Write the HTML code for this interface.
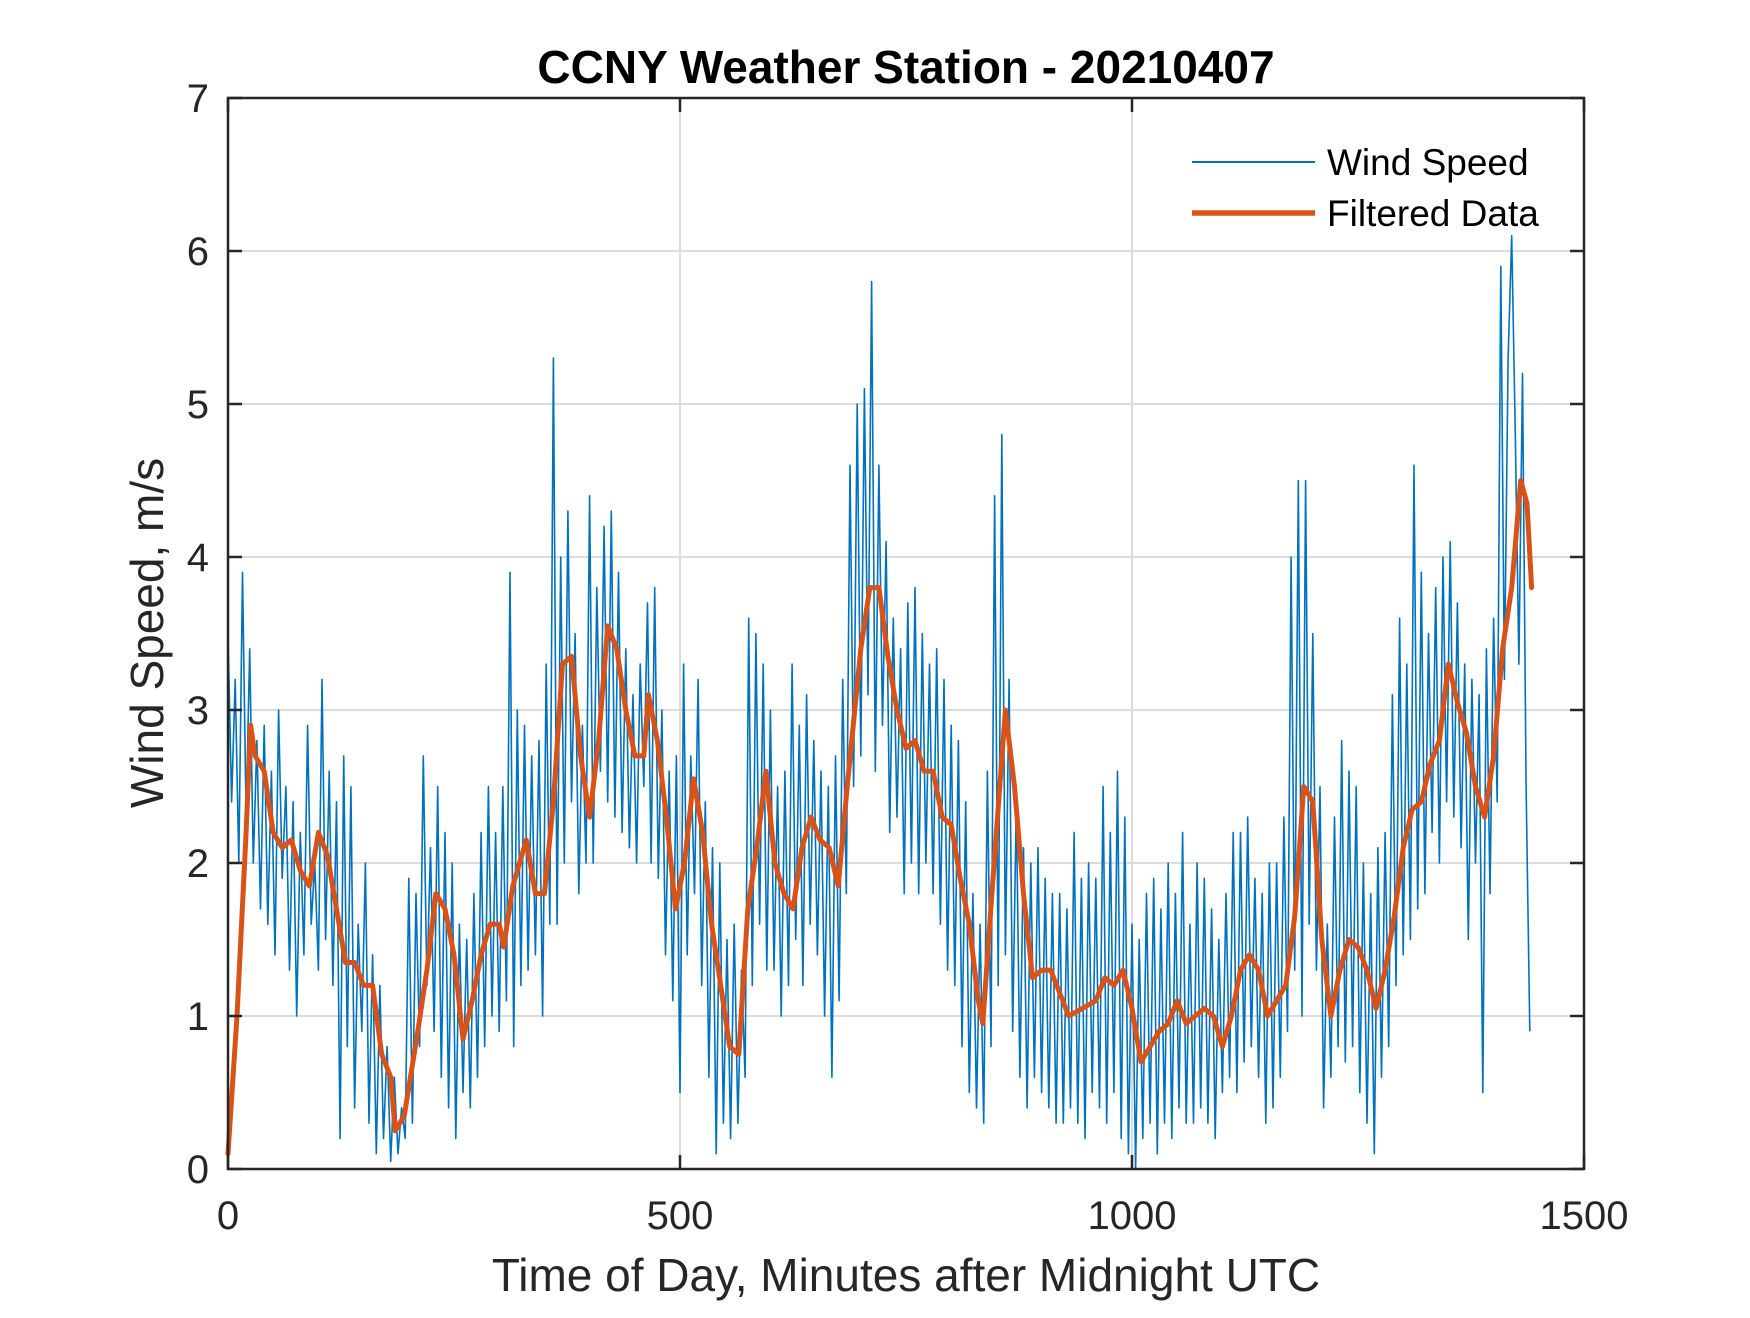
<!DOCTYPE html>
<html><head><meta charset="utf-8"><style>
html,body{margin:0;padding:0;background:#fff;}
svg text{font-family:"Liberation Sans",Arial,sans-serif;fill:#262626;}
</style></head><body>
<svg id="chart" width="1750" height="1313" viewBox="0 0 1750 1313" xmlns="http://www.w3.org/2000/svg">
<rect width="1750" height="1313" fill="#fff"/>
<g id="grid"></g>
<g id="series"></g>
<g id="axes"></g>
<text x="906" y="83" text-anchor="middle" font-size="46" font-weight="bold" style="fill:#000">CCNY Weather Station - 20210407</text>
<text x="906" y="1291" text-anchor="middle" font-size="46">Time of Day, Minutes after Midnight UTC</text>
<text transform="translate(163,633) rotate(-90)" text-anchor="middle" font-size="46">Wind Speed, m/s</text>
<g>
<line x1="1192" y1="162" x2="1315" y2="162" stroke="#0072BD" stroke-width="2"/>
<text x="1327" y="175" font-size="37" style="fill:#000">Wind Speed</text>
<line x1="1192" y1="213" x2="1315" y2="213" stroke="#D95319" stroke-width="5.5"/>
<text x="1327" y="226" font-size="37" style="fill:#000">Filtered Data</text>
</g>
</svg>
<script>
const rawStep = 4;
const rawValues = [
3.5,2.4,3.2,2.0,3.9,2.3,3.4,2.0,2.8,1.7,
2.9,1.6,2.6,1.4,3.0,1.9,2.5,1.3,2.4,1.0,
2.2,1.4,2.9,1.6,2.0,1.3,3.2,1.5,2.6,1.2,
2.4,0.2,2.7,0.8,2.5,0.4,1.6,0.9,2.0,0.3,
1.4,0.1,1.2,0.2,0.8,0.05,0.6,0.1,0.4,0.2,
1.9,0.3,1.8,0.8,2.7,1.2,2.1,0.9,2.5,0.6,
2.2,0.4,2.0,0.2,1.6,0.5,1.5,0.4,1.8,0.6,
2.2,0.8,2.5,1.0,2.2,0.9,2.5,1.1,3.9,0.8,
3.0,1.2,2.9,1.3,2.7,1.4,2.8,1.0,3.3,1.6,
5.3,1.6,4.0,2.0,4.3,2.4,3.5,1.8,2.9,2.0,
4.4,2.0,3.8,2.6,4.2,2.4,4.3,2.3,3.9,2.2,
3.4,2.1,3.1,2.0,3.3,2.5,3.7,2.0,3.8,1.9,
3.0,1.4,2.6,1.1,2.7,0.5,3.3,1.4,2.7,1.8,
3.2,1.2,2.4,0.6,2.1,0.1,2.0,0.3,1.5,0.2,
1.6,0.3,1.3,0.6,3.6,1.2,3.5,1.6,3.3,1.3,
3.0,1.3,2.5,1.0,2.6,1.2,3.3,1.5,2.9,1.2,
3.1,1.6,2.8,1.4,2.6,1.0,2.5,0.6,2.7,1.1,
3.2,1.8,4.6,2.5,5.0,2.7,5.1,3.1,5.8,2.6,
4.6,2.9,4.1,2.2,3.6,2.3,3.4,1.8,3.7,2.0,
3.8,1.8,3.5,2.0,3.3,1.8,3.4,1.6,3.2,1.3,
2.9,1.2,2.8,0.8,2.4,0.5,1.8,0.4,1.6,0.3,
2.6,0.8,4.4,1.2,4.8,1.4,3.2,0.9,2.4,0.6,
2.1,0.4,2.0,0.6,2.1,0.5,1.9,0.4,1.8,0.3,
1.8,0.3,1.7,0.4,2.2,0.3,1.9,0.2,2.0,0.5,
1.9,0.4,2.5,0.3,2.2,0.5,2.6,0.2,2.3,0.1,
1.6,0.0,1.5,0.2,1.8,0.3,1.9,0.1,1.7,0.3,
2.0,0.2,1.8,0.4,2.2,0.3,1.6,0.3,2.0,0.4,
1.9,0.3,1.7,0.2,1.5,0.5,1.8,0.6,2.2,0.5,
2.2,0.7,2.3,0.8,1.9,0.6,1.8,0.3,2.0,0.4,
2.0,0.6,2.3,0.9,4.0,1.3,4.5,1.0,4.5,1.6,
3.5,1.3,2.5,0.4,1.6,0.6,2.3,0.8,2.8,0.7,
2.6,0.8,2.5,0.5,2.0,0.3,1.8,0.1,2.1,0.6,
2.2,0.8,3.1,1.2,3.6,1.4,3.3,1.5,4.6,1.7,
3.9,1.8,3.5,2.2,3.8,2.0,4.0,2.4,4.1,2.3,
3.7,2.1,3.3,1.5,3.2,2.0,3.1,0.5,3.4,1.8,
3.6,2.4,5.9,3.2,5.3,6.1,4.8,3.3,5.2,2.5,
0.9];
const filtMinutes = [0,10,20,25,30,40,50,60,70,80,90,100,110,120,130,140,150,160,170,180,185,195,210,220,230,240,250,260,270,280,290,300,305,315,330,340,350,360,370,380,390,400,410,420,430,440,450,460,465,475,485,495,505,515,525,535,545,555,565,575,585,595,605,615,625,635,645,655,665,675,685,700,710,720,730,740,750,760,770,780,790,800,810,820,830,835,845,855,860,870,880,890,900,910,920,930,945,960,970,980,990,1000,1010,1020,1030,1040,1050,1060,1070,1080,1090,1100,1110,1120,1130,1140,1150,1160,1170,1180,1190,1200,1210,1220,1230,1240,1250,1260,1270,1280,1290,1300,1310,1320,1330,1340,1350,1360,1370,1380,1390,1400,1410,1420,1430,1437,1442];
const filtValues = [0.1,1.0,2.2,2.9,2.7,2.6,2.2,2.1,2.15,1.95,1.85,2.2,2.05,1.7,1.35,1.35,1.2,1.2,0.75,0.6,0.25,0.35,0.9,1.3,1.8,1.7,1.4,0.85,1.1,1.4,1.6,1.6,1.45,1.85,2.15,1.8,1.8,2.4,3.3,3.35,2.7,2.3,2.8,3.55,3.4,3.0,2.7,2.7,3.1,2.8,2.3,1.7,2.0,2.55,2.2,1.6,1.2,0.8,0.75,1.7,2.1,2.6,2.0,1.8,1.7,2.1,2.3,2.15,2.1,1.85,2.5,3.4,3.8,3.8,3.35,3.0,2.75,2.8,2.6,2.6,2.3,2.25,1.9,1.6,1.1,0.95,1.8,2.6,3.0,2.5,1.8,1.25,1.3,1.3,1.15,1.0,1.05,1.1,1.25,1.2,1.3,1.05,0.7,0.8,0.9,0.95,1.1,0.95,1.0,1.05,1.0,0.8,1.0,1.3,1.4,1.3,1.0,1.1,1.2,1.65,2.5,2.4,1.5,1.0,1.3,1.5,1.45,1.3,1.05,1.3,1.65,2.1,2.35,2.4,2.65,2.8,3.3,3.05,2.85,2.5,2.3,2.7,3.4,3.8,4.5,4.35,3.8];
const xTicks = [0,500,1000,1500];
const yTicks = [0,1,2,3,4,5,6,7];

const X0=228,X1=1584,Y0=1169,Y1=98;
const xs = v => X0 + (v/1500)*(X1-X0);
const ys = v => Y0 - (v/7)*(Y0-Y1);
const NS="http://www.w3.org/2000/svg";
function mk(tag, attrs, parent){const e=document.createElementNS(NS,tag);for(const k in attrs)e.setAttribute(k,attrs[k]);parent.appendChild(e);return e;}
const grid=document.getElementById('grid'), series=document.getElementById('series'), axes=document.getElementById('axes');

xTicks.forEach(t=>{
  if(t>0&&t<1500){const g=mk('line',{x1:xs(t),x2:xs(t),y1:Y1,y2:Y0,stroke:'#dcdcdc','stroke-width':2},grid);
  
  }
  [[Y0,Y0-14],[Y1,Y1+14]].forEach(p=>{const tk=mk('line',{x1:xs(t),x2:xs(t),y1:p[0],y2:p[1],stroke:'#262626','stroke-width':2.5},axes);
  
  });
  const l=mk('text',{x:xs(t),y:1229,'text-anchor':'middle','font-size':40},axes);
  l.textContent=t;
  
  
});
yTicks.forEach(t=>{
  if(t>0&&t<7){const g=mk('line',{x1:X0,x2:X1,y1:ys(t),y2:ys(t),stroke:'#dcdcdc','stroke-width':2},grid);
  
  }
  [[X0,X0+14],[X1,X1-14]].forEach(p=>{const tk=mk('line',{x1:p[0],x2:p[1],y1:ys(t),y2:ys(t),stroke:'#262626','stroke-width':2.5},axes);
  
  });
  const l=mk('text',{x:209,y:ys(t)+14,'text-anchor':'end','font-size':40},axes);
  l.textContent=t;
  
  
});
const box=mk('rect',{x:X0,y:Y1,width:X1-X0,height:Y0-Y1,fill:'none',stroke:'#262626','stroke-width':2.5},axes);



const rawPts=rawValues.map((v,i)=>xs(i*rawStep).toFixed(1)+','+ys(v).toFixed(1)).join(' ');
const raw=mk('polyline',{points:rawPts,fill:'none',stroke:'#0072BD','stroke-width':1.6,'stroke-linejoin':'round'},series);


const fPts=filtValues.map((v,i)=>xs(filtMinutes[i]).toFixed(1)+','+ys(v).toFixed(1)).join(' ');
const filt=mk('polyline',{points:fPts,fill:'none',stroke:'#D95319','stroke-width':5,'stroke-linejoin':'round','stroke-linecap':'round'},series);


</script>
</body></html>
